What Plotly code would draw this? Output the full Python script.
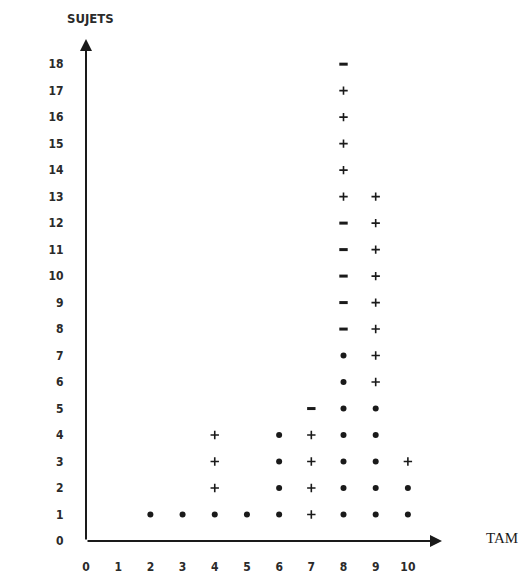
import plotly.graph_objects as go

# Data: TAM (x) vs SUJETS (y)
dot_tam    = [2, 3, 4, 5, 6, 6, 6, 6, 8, 8, 8, 8, 8, 8, 8, 9, 9, 9, 9, 9, 10, 10]
dot_sujets = [1, 1, 1, 1, 1, 2, 3, 4, 1, 2, 3, 4, 5, 6, 7, 1, 2, 3, 4, 5, 1, 2]

cross_tam    = [4, 4, 4, 7, 7, 7, 7, 8, 8, 8, 8, 8, 9, 9, 9, 9, 9, 9, 9, 9, 10]
cross_sujets = [2, 3, 4, 1, 2, 3, 4, 13, 14, 15, 16, 17, 6, 7, 8, 9, 10, 11, 12, 13, 3]

dash_tam    = [7, 8, 8, 8, 8, 8, 8]
dash_sujets = [5, 8, 9, 10, 11, 12, 18]

x_ticks = list(range(0, 11))
y_ticks = list(range(0, 19))

ink = "#1a1a1a"
label_ink = "#2a2a2a"
font_main = "DejaVu Sans Condensed"

fig = go.Figure()
fig.add_trace(go.Scatter(x=dot_tam, y=dot_sujets, mode="markers",
                         marker=dict(symbol="circle", size=6, color=ink),
                         cliponaxis=False, showlegend=False))
fig.add_trace(go.Scatter(x=cross_tam, y=cross_sujets, mode="markers",
                         marker=dict(symbol="cross-thin", size=6,
                                     line=dict(color=ink, width=1.6)),
                         cliponaxis=False, showlegend=False))
fig.add_trace(go.Scatter(x=dash_tam, y=dash_sujets, mode="markers",
                         marker=dict(symbol="line-ew", size=6,
                                     line=dict(color=ink, width=3)),
                         cliponaxis=False, showlegend=False))

x_max = 11.06
y_max = 18.95

# Axis lines with arrowheads
fig.add_annotation(x=x_max, y=0, ax=0, ay=0, xref="x", yref="y", axref="x", ayref="y",
                   showarrow=True, arrowhead=2, arrowsize=1.2, arrowwidth=2, arrowcolor=ink, text="")
fig.add_annotation(x=0, y=y_max, ax=0, ay=0, xref="x", yref="y", axref="x", ayref="y",
                   showarrow=True, arrowhead=2, arrowsize=1.2, arrowwidth=2, arrowcolor=ink, text="")

fig.add_annotation(x=0.014, y=1.04, xref="paper", yref="paper", xanchor="center", yanchor="middle",
                   text="<b>SUJETS</b>", showarrow=False,
                   font=dict(family=font_main, size=13, color=label_ink))
fig.add_annotation(x=1.169, y=0.006, xref="paper", yref="paper", xanchor="center", yanchor="middle",
                   text="TAM", showarrow=False,
                   font=dict(family="Liberation Serif", size=15, color=ink))

fig.update_layout(
    width=521, height=573,
    margin=dict(l=86, r=79, t=39, b=32),
    paper_bgcolor="white", plot_bgcolor="white",
    font=dict(family=font_main, size=12, color=label_ink),
    xaxis=dict(range=[0, x_max], tickvals=x_ticks, ticktext=["<b>%d</b>" % v for v in x_ticks],
               showgrid=False, zeroline=False, showline=False, automargin=False,
               ticks="outside", ticklen=15, tickcolor="rgba(0,0,0,0)"),
    yaxis=dict(range=[0, y_max], tickvals=y_ticks, ticktext=["<b>%d</b>" % v for v in y_ticks],
               showgrid=False, zeroline=False, showline=False, automargin=False,
               ticks="outside", ticklen=19, tickcolor="rgba(0,0,0,0)"),
)

fig.write_html("out.html",
               config={"displayModeBar": False},
               post_script="document.body.style.margin='0';document.body.style.overflow='hidden';")
